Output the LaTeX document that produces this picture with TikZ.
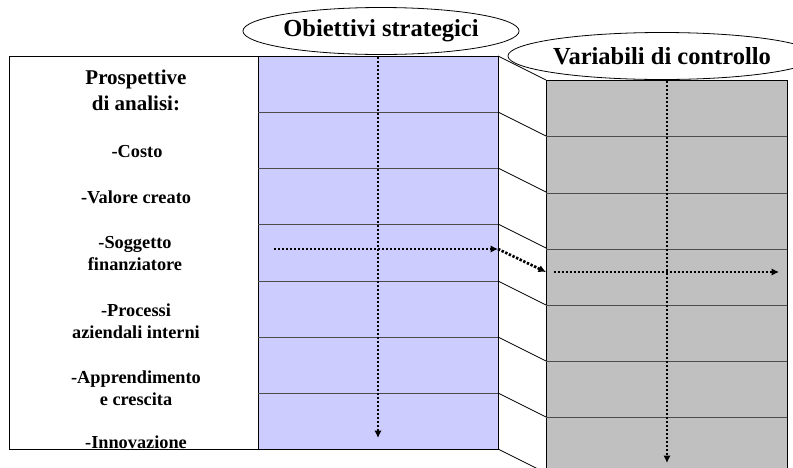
\documentclass[tikz,border=0pt]{standalone}
\usepackage{fontspec}
\setmainfont{Liberation Serif}
\usetikzlibrary{arrows.meta,shapes.geometric}
\definecolor{lilla}{RGB}{204,204,255}
\definecolor{grigio}{RGB}{192,192,192}

\begin{document}
\begin{tikzpicture}[x=1pt, y=-1pt,
		flusso/.style={line width=2.7pt, dash pattern=on 2.4pt off 1.6pt, -{Latex[length=7.5pt,width=7.5pt]}},
		voce/.style={align=center, font=\fontsize{18.3}{22}\selectfont\bfseries},
		titolo/.style={ellipse, draw, fill=white, line width=0.8pt, inner sep=0pt, font=\fontsize{24.5}{28}\selectfont\bfseries}]
		%%%%% START %%%%%
		\useasboundingbox (0, 0) rectangle (793, 467);
		
		\draw[line width=0.9pt, fill=white] (9, 56) rectangle (258, 449);
		
		\draw[line width=0.9pt, fill=lilla] (258, 56) rectangle (498, 449);
		\foreach \y in {112, 168, 224, 281, 337, 393}
			\draw[line width=0.9pt, color=black!70] (258, \y) -- (498, \y);
		
		\draw[line width=0.9pt, fill=grigio] (546, 80) rectangle (787, 473);
		\foreach \y in {136, 193, 249, 305, 361, 417}
			\draw[line width=0.9pt, color=black!70] (546, \y) -- (787, \y);
		
		\foreach \y in {56, 112, 168, 224, 281, 337, 393, 449}
			\draw[line width=0.8pt] (498, \y) -- (546, \y+24);
		
		\node[titolo, minimum width=274pt, minimum height=47pt] (obiettivi) at (381, 31) {Obiettivi strategici};
		\node[titolo, minimum width=264pt, minimum height=47pt] (variabili) at (662, 56) {Variabili di controllo};
		
		\node[voce, font=\fontsize{21}{26}\selectfont\bfseries] (prospettive) at (136, 90) {Prospettive\\di analisi:};
		\node[voce] (costo) at (137, 152) {-Costo};
		\node[voce] (valore) at (136, 197) {-Valore creato};
		\node[voce] (soggetto) at (135, 254) {-Soggetto\\finanziatore};
		\node[voce] (processi) at (136, 321) {-Processi\\aziendali interni};
		\node[voce] (apprendimento) at (136, 388) {-Apprendimento\\e crescita};
		\node[voce] (innovazione) at (136, 442) {-Innovazione};
		\draw[line width=0.9pt] (9, 449) -- (258, 449);
		
		\coordinate (o1) at (378, 57);
		\coordinate (o2) at (378, 438);
		\coordinate (o3) at (274, 249);
		\coordinate (o4) at (498, 249);
		\coordinate (v1) at (667, 81);
		\coordinate (v2) at (667, 463);
		\coordinate (v3) at (546, 272);
		\coordinate (v4) at (554, 272);
		\coordinate (v5) at (779, 272);
		
		\draw[flusso] (o1) -- (o2);
		\draw[flusso] (o3) -- (o4);
		\draw[flusso] (o4) -- (v3);
		\draw[flusso] (v1) -- (v2);
		\draw[flusso] (v4) -- (v5);
		
		%%%%% END %%%%%
	\end{tikzpicture}
\end{document}
